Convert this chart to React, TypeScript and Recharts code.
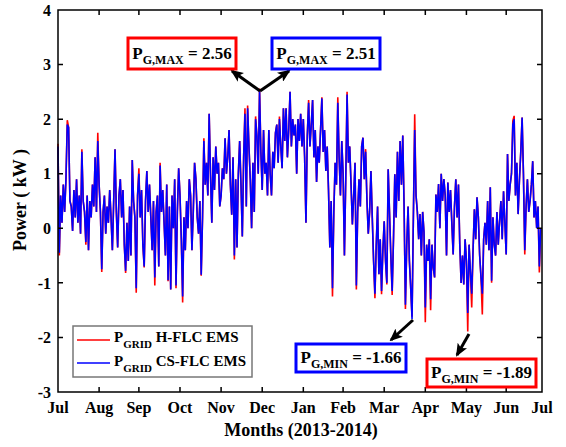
import React from 'react';
import { LineChart, Line, XAxis, YAxis } from 'recharts';

// daily grid power, Jul 2013 -> Jul 2014 (kW)
const csFlcPower = [
  1.5, -0.45, 0.6, 0.1, 0.8, 0.3, 0.9, 1.9, 1.85, 0.5,
  0.4, -0.05, 0.7, 0.2, 0.9, 0.1, 0.6, -0.1, 1.4, 0.5,
  0.3, -0.25, 0.6, -0.4, 0.5, 0.2, 0.8, 0.4, 1.3, 0.3,
  1.6, 0.8, 0.3, -0.75, 0.3, 0.6, -0.1, 0.4, 0.1, 0.7,
  0.2, -0.4, 0.5, 1.45, 0.3, -0.35, 0.6, 0.9, 0.2, 0.7,
  -0.3, -0.78, 0.1, -0.6, 0.4, -0.5, 1.25, 0.5, 0.2, -1.1,
  0.6, 1.0, 0.2, 0.7, -0.3, -0.7, 0.5, 1.05, 0.3, 0.8,
  0.2, -0.4, 0.5, -0.9, 0.3, 0.6, -0.7, 1.15, 0.3, 0.7,
  0.1, -0.5, 0.8, -0.95, 0.4, -1.12, 0.6, 0.0, 0.9, -1.05,
  0.3, 1.1, 0.6, -0.2, -1.25, 0.2, -0.4, 0.5, 0.0, 0.9,
  0.6, -0.4, 0.3, 1.2, 0.9, 0.2, -0.1, 0.5, -0.85, 0.2,
  1.6, 0.8, 1.2, 0.6, 2.1, 1.0, 0.1, 1.3, 0.7, 1.5,
  1.0, 1.2, 0.4, 0.6, 1.1, 0.9, 1.65, 1.0, 1.3, 1.8,
  0.8, 0.25, 1.3, -0.5, 0.9, -0.35, 1.0, 1.6, 0.8, -0.15,
  1.3, 2.1, 0.4, 2.2, 1.5, 0.9, 0.0, 1.2, 0.3, 2.0,
  1.7, 1.0, 2.51, 1.4, 0.7, 1.8, 1.0, 1.2, 0.6, 1.8,
  1.0, 0.6, 1.4, 1.1, 1.75, 1.9, 1.2, 2.0, 1.5, 1.1,
  2.2, 1.6, 2.2, 1.3, 1.8, 2.5, 1.5, 2.0, 1.7, 1.9,
  1.0, 2.0, 1.6, 2.1, 1.5, 2.0, 1.3, 0.1, 1.7, 2.3,
  1.5, 1.9, 2.35, 1.3, 1.8, 0.85, 1.5, 1.2, 1.8, 2.38,
  1.4, 1.8, 1.05, 1.5, 0.7, -0.35, 0.5, -1.1, 0.3, 1.2,
  0.8, 2.3, 1.3, 0.6, 1.6, 1.0, -0.5, 0.9, 2.45, 1.2,
  1.5, 0.8, 0.07, 0.6, 1.2, -1.05, 0.3, 0.9, 0.4, 1.5,
  1.66, 0.9, 1.4, 0.5, -0.1, 0.3, 1.05, 0.2, -0.6, -1.2,
  -0.3, 0.4, -0.84, -0.2, -1.15, -0.4, 0.13, -0.6, -1.0, 1.08,
  0.3, -0.5, -1.15, -0.2, 0.99, 0.2, 1.4, 0.5, 1.6, 0.8,
  1.7, 0.4, -1.4, -0.3, 0.4, -0.6, -1.1, -1.66, 0.2, 1.8,
  0.6, 0.3, -0.2, 0.26, -0.5, 0.3, -0.07, -1.45, -0.3, -0.6,
  -0.2, -1.3, -0.3, -0.72, -0.9, 0.62, 0.3, 0.81, 0.0, 1.0,
  0.5, 0.9, 0.6, -0.5, 0.84, 0.3, 0.7, 0.1, -0.48, 0.4,
  0.9, 0.2, 0.8, -0.3, -1.0, -0.5, -1.03, -0.2, -0.6, -1.55,
  -0.3, -0.8, -1.2, -0.4, 0.35, -0.2, 0.57, 0.2, -0.5, -0.9,
  -1.2, -0.2, 0.1, -0.3, 0.5, -0.4, 0.75, -0.96, 0.2, -0.3,
  -0.5, 0.3, -0.3, 0.13, 0.5, -0.2, 0.68, 0.1, -0.48, 1.36,
  0.5, 0.8, 1.0, 1.9, 2.0, 0.6, 1.2, 0.26, 0.9, 1.4,
  2.03, 1.0, -0.4, 0.4, 0.9, 0.3, 0.5, 0.8, 1.23, 0.2,
  0.5, 0.0, 0.4, -0.7, 0.0,
];

const hFlcPower = [
  1.55, -0.5, 0.6, 0.1, 0.8, 0.3, 0.9, 1.98, 1.85, 0.5,
  0.4, -0.05, 0.7, 0.2, 0.9, 0.1, 0.6, -0.1, 1.45, 0.5,
  0.3, -0.3, 0.6, -0.4, 0.5, 0.2, 0.8, 0.4, 1.3, 0.3,
  1.75, 0.8, 0.3, -0.8, 0.3, 0.6, -0.1, 0.4, 0.1, 0.7,
  0.2, -0.4, 0.5, 1.45, 0.3, -0.35, 0.6, 0.9, 0.2, 0.7,
  -0.3, -0.82, 0.1, -0.6, 0.4, -0.5, 1.25, 0.5, 0.2, -1.18,
  0.6, 1.1, 0.2, 0.7, -0.3, -0.72, 0.5, 1.05, 0.3, 0.8,
  0.2, -0.4, 0.5, -1.05, 0.3, 0.6, -0.7, 1.2, 0.3, 0.7,
  0.1, -0.5, 0.8, -0.97, 0.4, -1.12, 0.6, 0.0, 0.9, -1.1,
  0.3, 1.1, 0.6, -0.2, -1.36, 0.2, -0.4, 0.5, 0.0, 0.9,
  0.6, -0.4, 0.3, 1.2, 0.9, 0.2, -0.1, 0.5, -0.87, 0.2,
  1.65, 0.8, 1.2, 0.6, 2.1, 1.0, 0.1, 1.3, 0.7, 1.5,
  1.0, 1.2, 0.4, 0.6, 1.1, 0.9, 1.65, 1.0, 1.3, 1.8,
  0.8, 0.25, 1.3, -0.57, 0.9, -0.35, 1.0, 1.6, 0.8, -0.15,
  1.3, 2.2, 0.4, 2.25, 1.5, 0.9, 0.0, 1.2, 0.3, 2.05,
  1.7, 1.0, 2.56, 1.4, 0.7, 1.8, 1.0, 1.2, 0.6, 1.8,
  1.0, 0.6, 1.4, 1.1, 1.75, 1.9, 1.2, 2.05, 1.5, 1.1,
  2.2, 1.6, 2.2, 1.3, 1.8, 2.5, 1.5, 2.0, 1.7, 1.9,
  1.0, 2.0, 1.6, 2.1, 1.5, 2.0, 1.3, 0.1, 1.7, 2.35,
  1.5, 1.9, 2.35, 1.3, 1.8, 0.85, 1.5, 1.2, 1.8, 2.4,
  1.4, 1.8, 1.05, 1.5, 0.7, -0.35, 0.5, -1.25, 0.3, 1.2,
  0.8, 2.4, 1.3, 0.6, 1.6, 1.0, -0.5, 0.9, 2.5, 1.2,
  1.5, 0.8, 0.07, 0.6, 1.2, -1.12, 0.3, 0.9, 0.4, 1.5,
  1.66, 0.9, 1.45, 0.5, -0.1, 0.3, 1.05, 0.2, -0.6, -1.28,
  -0.3, 0.4, -0.84, -0.2, -1.21, -0.4, 0.13, -0.6, -1.03, 1.08,
  0.3, -0.5, -1.22, -0.2, 0.99, 0.2, 1.4, 0.5, 1.6, 0.8,
  1.7, 0.4, -1.48, -0.3, 0.4, -0.6, -1.1, -1.62, 0.2, 2.09,
  0.6, 0.3, -0.2, 0.26, -0.5, 0.3, -0.07, -1.72, -0.3, -0.6,
  -0.2, -1.5, -0.3, -0.72, -0.9, 0.62, 0.3, 0.81, 0.0, 1.0,
  0.5, 0.9, 0.6, -0.5, 0.84, 0.3, 0.7, 0.1, -0.48, 0.4,
  0.9, 0.2, 0.8, -0.3, -1.0, -0.5, -1.03, -0.2, -0.6, -1.89,
  -0.3, -0.8, -1.45, -0.4, 0.35, -0.2, 0.57, 0.2, -0.5, -0.9,
  -1.58, -0.2, 0.1, -0.3, 0.5, -0.4, 0.75, -1.0, 0.2, -0.3,
  -0.5, 0.3, -0.3, 0.13, 0.5, -0.2, 0.68, 0.1, -0.48, 1.36,
  0.5, 0.8, 1.0, 1.97, 2.06, 0.6, 1.2, 0.26, 0.9, 1.4,
  2.03, 1.0, -0.48, 0.4, 0.9, 0.3, 0.5, 0.8, 1.23, 0.2,
  0.5, 0.0, 0.4, -0.81, 0.0,
];

const monthTicks = [0, 31, 61, 92, 123, 154, 185, 215, 246, 277, 308, 338, 365];
const monthLabels = ['Jul', 'Aug', 'Sep', 'Oct', 'Nov', 'Dec', 'Jan', 'Feb', 'Mar', 'Apr', 'May', 'Jun', 'Jul'];
const powerTicks = [-3, -2, -1, 0, 1, 2, 3, 4];

const data = csFlcPower.map((v, i) => ({ day: i, hflc: hFlcPower[i], csflc: v }));

const FONT = '"Liberation Serif", "Times New Roman", serif';
const W = 566, H = 447;
const MARGIN = { top: 10, right: 24, left: 0, bottom: 0 };
const Y_AXIS_W = 58, X_AXIS_H = 55;
const X_MIN = 0, X_MAX = 365, Y_MIN = -3, Y_MAX = 4;

// plot box, same numbers the chart layout uses
const L = MARGIN.left + Y_AXIS_W;
const R = W - MARGIN.right;
const T = MARGIN.top;
const B = H - MARGIN.bottom - X_AXIS_H;
const sx = (t: number) => L + ((t - X_MIN) / (X_MAX - X_MIN)) * (R - L);
const sy = (v: number) => B - ((v - Y_MIN) / (Y_MAX - Y_MIN)) * (B - T);
const TL = 5;

function Callout({ x, y, w, h, color, sub, value }: any) {
  return (
    <g>
      <rect x={x} y={y} width={w} height={h} fill="#fff" stroke={color} strokeWidth={3} />
      <text x={x + w / 2} y={y + h / 2 + 5} textAnchor="middle" fontFamily={FONT} fontWeight="bold" fontSize={17} fill="#000">
        P<tspan fontSize={12} dy={5}>{sub}</tspan><tspan dy={-5}>{` = ${value}`}</tspan>
      </text>
    </g>
  );
}

// matlab-style box with inward ticks on all four sides
function Frame() {
  const d: string[] = [];
  d.push(`M${L},${T} L${R},${T} L${R},${B} L${L},${B} Z`);
  monthTicks.forEach((t) => {
    const x = sx(t);
    d.push(`M${x},${B} L${x},${B - TL}`);
    d.push(`M${x},${T} L${x},${T + TL}`);
  });
  powerTicks.forEach((v) => {
    const y = sy(v);
    d.push(`M${L},${y} L${L + TL},${y}`);
    d.push(`M${R},${y} L${R - TL},${y}`);
  });
  return <path d={d.join(' ')} fill="none" stroke="#000000" strokeWidth={1.5} />;
}

function Overlay() {
  return (
    <svg width={W} height={H} style={{ position: 'absolute', left: 0, top: 0, pointerEvents: 'none' }}>
      <defs>
        <marker id="head" markerWidth={13} markerHeight={11} refX={11} refY={5.5} orient="auto" markerUnits="userSpaceOnUse">
          <path d="M0,0 L13,5.5 L0,11 L3,5.5 Z" fill="#000" />
        </marker>
      </defs>

      <Frame />

      <text transform="translate(26,200) rotate(-90)" textAnchor="middle" fontFamily={FONT} fontWeight="bold" fontSize={18}>
        Power ( kW )
      </text>
      <text x={301} y={436} textAnchor="middle" fontFamily={FONT} fontWeight="bold" fontSize={18}>
        Months (2013-2014)
      </text>

      {/* legend */}
      <rect x={73} y={326} width={179} height={51} fill="#fff" stroke="#777" strokeWidth={1.5} />
      <line x1={77} y1={340} x2={110} y2={340} stroke="#ff0000" strokeWidth={1.3} />
      <line x1={77} y1={363} x2={110} y2={363} stroke="#0000ff" strokeWidth={1.3} />
      <text x={114} y={342} fontFamily={FONT} fontWeight="bold" fontSize={15}>
        P<tspan fontSize={11} dy={6}>GRID</tspan><tspan dy={-6}> H-FLC EMS</tspan>
      </text>
      <text x={114} y={366} fontFamily={FONT} fontWeight="bold" fontSize={15}>
        P<tspan fontSize={11} dy={6}>GRID</tspan><tspan dy={-6}> CS-FLC EMS</tspan>
      </text>

      {/* callouts */}
      <line x1={260} y1={91} x2={232} y2={71} stroke="#000" strokeWidth={3} markerEnd="url(#head)" />
      <line x1={260} y1={91} x2={289} y2={71} stroke="#000" strokeWidth={3} markerEnd="url(#head)" />
      <line x1={413} y1={320} x2={391} y2={340} stroke="#000" strokeWidth={3} markerEnd="url(#head)" />
      <line x1={469} y1={334} x2={457} y2={355} stroke="#000" strokeWidth={3} markerEnd="url(#head)" />
      <Callout x={128} y={38} w={108} h={31} color="#ff0000" sub="G,MAX" value="2.56" />
      <Callout x={272} y={38} w={108} h={31} color="#0000ff" sub="G,MAX" value="2.51" />
      <Callout x={296} y={344} w={110} h={28} color="#0000ff" sub="G,MIN" value="-1.66" />
      <Callout x={427} y={359} w={109} h={28} color="#ff0000" sub="G,MIN" value="-1.89" />
    </svg>
  );
}

export default function App() {
  const tickFont = { fill: '#000', fontSize: 16, fontWeight: 'bold', fontFamily: FONT };
  return (
    <div style={{ position: 'absolute', left: 0, top: 0, width: W, height: H, background: '#fff' }}>
      <LineChart width={W} height={H} data={data} margin={MARGIN}>
        <XAxis
          dataKey="day"
          type="number"
          domain={[X_MIN, X_MAX]}
          ticks={monthTicks}
          interval={0}
          tickFormatter={(v: number, i: number) => monthLabels[i]}
          height={X_AXIS_H}
          axisLine={false}
          tickLine={false}
          tickSize={0}
          tickMargin={10}
          tick={tickFont}
        />
        <YAxis
          type="number"
          domain={[Y_MIN, Y_MAX]}
          ticks={powerTicks}
          interval={0}
          width={Y_AXIS_W}
          axisLine={false}
          tickLine={false}
          tickSize={0}
          tickMargin={7}
          tick={tickFont}
        />
        <Line dataKey="hflc" stroke="#ff0000" strokeWidth={1.6} dot={false} type="linear" isAnimationActive={false} />
        <Line dataKey="csflc" stroke="#0000ff" strokeWidth={1.6} dot={false} type="linear" isAnimationActive={false} />
      </LineChart>
      <Overlay />
    </div>
  );
}
